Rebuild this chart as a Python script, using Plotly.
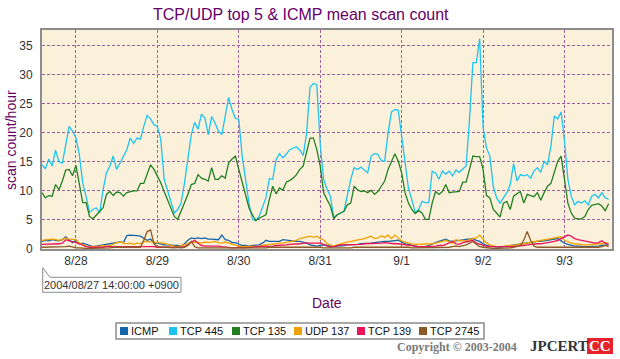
import plotly.graph_objects as go
import pandas as pd

# ---------------- data (hourly means) ----------------
START = "2004-08-27 14:00"
SERIES_NAMES = ["ICMP", "TCP 445", "TCP 135", "UDP 137", "TCP 139", "TCP 2745"]
SERIES_COLORS = ["#1464AA", "#1EC4F0", "#228022", "#F0A000", "#E8145A", "#8C5A28"]
DAY_TICKS = ["2004-08-28", "2004-08-29", "2004-08-30", "2004-08-31",
             "2004-09-01", "2004-09-02", "2004-09-03"]
DAY_LABELS = ["8/28", "8/29", "8/30", "8/31", "9/1", "9/2", "9/3"]
Y_TICKS = [0, 5, 10, 15, 20, 25, 30, 35]

tcp445 = [
    14.5, 13.8, 15.5, 14.3, 17.0, 15.0, 14.8, 18.0, 21.1, 20.3, 19.1, 16.3,
    11.4, 9.0, 6.3, 6.8, 7.1, 6.2, 10.2, 13.1, 14.3, 16.0, 13.7, 14.8,
    16.0, 17.1, 19.1, 18.2, 19.1, 18.9, 21.1, 23.0, 22.4, 21.4, 21.1, 18.9,
    12.0, 10.2, 8.2, 6.2, 6.8, 7.9, 11.4, 15.4, 19.7, 21.8, 20.6, 23.2,
    22.6, 19.7, 22.8, 21.7, 20.3, 19.7, 23.2, 26.1, 24.0, 22.5, 22.3, 16.0,
    12.0, 7.9, 5.1, 4.9, 5.6, 7.1, 8.8, 12.1, 12.0, 15.4, 16.4, 15.7,
    16.3, 17.1, 17.4, 17.6, 17.0, 16.1, 20.0, 27.9, 28.5, 28.3, 18.0, 12.0,
    10.3, 9.1, 5.5, 5.9, 6.2, 6.5, 9.5, 12.0, 14.0, 13.7, 14.1, 13.6,
    13.1, 16.0, 16.4, 16.3, 15.2, 15.1, 20.0, 23.6, 24.0, 23.9, 19.4, 14.8,
    10.5, 8.5, 6.3, 6.8, 8.2, 8.0, 8.0, 13.4, 13.1, 12.0, 13.4, 12.9,
    13.4, 12.6, 13.6, 13.2, 13.7, 14.3, 22.3, 32.1, 32.1, 36.2, 21.0, 17.4,
    16.0, 10.8, 8.8, 7.9, 8.8, 9.7, 11.1, 14.7, 11.7, 12.8, 12.6, 12.8,
    12.2, 13.4, 14.0, 13.2, 15.1, 14.5, 17.7, 22.9, 22.4, 23.6, 18.6, 12.0,
    9.1, 7.6, 8.2, 7.9, 8.3, 7.6, 9.1, 9.4, 8.8, 9.7, 8.8, 8.6,
]
tcp135 = [
    9.7, 8.8, 9.2, 9.1, 11.1, 10.2, 11.7, 13.6, 13.7, 12.6, 14.4, 11.4,
    8.0, 8.0, 5.6, 5.2, 5.9, 6.5, 7.1, 9.4, 9.9, 9.2, 9.8, 9.7,
    9.1, 9.7, 9.9, 10.0, 10.0, 11.3, 11.3, 13.1, 14.5, 13.7, 12.5, 11.4,
    9.9, 8.5, 7.1, 5.6, 5.1, 6.5, 7.9, 9.4, 11.1, 11.3, 12.8, 12.2,
    12.0, 11.7, 14.0, 12.0, 12.0, 12.6, 12.2, 14.8, 15.5, 16.0, 13.7, 11.4,
    9.1, 7.1, 5.9, 4.9, 5.3, 5.6, 5.9, 8.5, 10.8, 9.5, 10.5, 10.1,
    11.5, 11.8, 12.2, 12.8, 13.7, 14.3, 16.6, 19.1, 19.1, 17.1, 14.3, 9.7,
    8.5, 7.4, 5.2, 5.9, 6.2, 6.5, 7.6, 7.9, 10.8, 10.2, 9.9, 10.0,
    9.7, 10.1, 9.4, 9.9, 10.8, 11.7, 13.7, 15.1, 16.4, 15.1, 13.1, 9.7,
    7.9, 6.8, 6.1, 6.6, 6.2, 5.1, 5.1, 7.9, 9.9, 9.4, 9.9, 11.1,
    9.7, 9.8, 9.8, 9.9, 11.5, 11.5, 13.7, 16.0, 15.9, 15.9, 13.7, 9.2,
    8.8, 6.8, 6.2, 5.5, 7.9, 8.2, 6.8, 9.1, 9.5, 9.9, 7.9, 9.4,
    9.2, 9.0, 9.7, 8.4, 9.7, 10.8, 11.3, 13.4, 15.1, 16.0, 12.0, 7.9,
    6.2, 5.3, 5.2, 5.2, 5.6, 6.8, 7.5, 7.6, 7.8, 7.4, 6.6, 7.8,
]
icmp = [
    1.3, 1.5, 1.4, 1.6, 1.5, 1.4, 1.6, 2.1, 1.6, 1.1, 1.5, 0.9,
    1.0, 0.8, 0.5, 0.4, 0.5, 0.6, 0.6, 0.7, 0.9, 1.0, 1.1, 1.2,
    1.1, 2.3, 2.4, 2.4, 2.3, 2.2, 1.9, 1.5, 1.7, 1.0, 1.0, 0.8,
    0.7, 0.7, 0.6, 0.6, 0.6, 0.5, 0.9, 1.5, 1.9, 1.8, 1.9, 1.8,
    1.9, 1.7, 1.7, 1.6, 1.6, 2.4, 1.6, 1.5, 1.1, 1.1, 0.9, 0.6,
    0.6, 0.5, 0.6, 0.6, 0.7, 1.0, 1.5, 1.3, 1.3, 1.2, 1.3, 1.6,
    1.5, 1.5, 1.4, 1.3, 1.3, 1.2, 1.0, 0.7, 0.6, 0.5, 0.6, 0.7,
    0.6, 0.5, 0.4, 0.5, 0.5, 0.6, 0.7, 0.7, 0.8, 0.8, 0.9, 0.9,
    1.0, 1.0, 1.1, 1.2, 1.2, 1.3, 1.3, 1.4, 1.5, 1.5, 1.2, 0.9,
    0.8, 0.6, 0.5, 0.4, 0.4, 0.4, 0.6, 0.9, 1.1, 1.3, 1.5, 1.7,
    1.4, 1.3, 1.4, 1.5, 1.5, 1.6, 1.7, 1.8, 1.5, 1.3, 0.9, 0.6,
    0.5, 0.4, 0.3, 0.3, 0.4, 0.5, 0.6, 0.7, 0.8, 0.9, 1.0, 1.0,
    1.1, 1.2, 1.3, 1.3, 1.4, 1.5, 1.6, 1.6, 1.8, 1.4, 1.0, 0.8,
    0.6, 0.5, 0.5, 0.4, 0.4, 0.4, 0.4, 0.5, 0.5, 0.6, 0.7, 0.7,
]
udp137 = [
    1.5, 1.6, 1.6, 1.7, 1.6, 1.5, 1.6, 1.9, 1.7, 1.6, 1.6, 1.0,
    0.7, 0.5, 0.4, 0.4, 0.5, 0.5, 0.6, 0.5, 0.6, 0.9, 1.1, 1.2,
    1.1, 0.9, 1.0, 0.8, 1.0, 0.9, 1.3, 1.3, 1.2, 1.2, 1.1, 1.1,
    1.0, 0.8, 0.6, 0.5, 0.4, 0.6, 0.8, 1.0, 1.1, 1.2, 1.1, 1.0,
    1.2, 1.1, 1.2, 1.3, 1.1, 1.0, 1.2, 1.0, 0.8, 0.6, 0.5, 0.4,
    0.4, 0.5, 0.4, 0.5, 0.5, 0.6, 0.7, 0.8, 0.9, 0.9, 1.0, 1.0,
    1.1, 1.3, 1.4, 1.5, 1.8, 1.9, 2.1, 2.2, 2.0, 2.2, 1.8, 1.6,
    0.9, 0.7, 0.5, 0.7, 0.9, 1.0, 1.2, 1.3, 1.4, 1.5, 1.6, 1.8,
    2.0, 2.2, 1.8, 1.9, 2.3, 2.0, 2.4, 1.8, 2.4, 1.9, 1.4, 1.2,
    1.0, 0.9, 0.8, 0.8, 0.8, 0.9, 0.8, 0.9, 1.0, 1.1, 1.3, 1.5,
    1.2, 1.0, 1.6, 1.4, 1.5, 1.3, 1.7, 1.8, 1.9, 2.4, 1.6, 1.0,
    0.7, 0.5, 0.4, 0.4, 0.5, 0.5, 0.6, 0.6, 0.7, 0.8, 0.9, 1.0,
    1.1, 1.2, 1.3, 1.5, 1.6, 1.7, 1.8, 1.9, 1.9, 2.1, 1.5, 1.2,
    1.0, 0.9, 0.8, 0.7, 0.7, 0.7, 0.8, 0.8, 0.9, 0.9, 1.1, 1.0,
]
tcp139 = [
    0.8, 0.8, 0.9, 0.8, 0.9, 0.9, 1.0, 1.6, 1.4, 1.3, 1.1, 0.9,
    0.6, 0.4, 0.3, 0.3, 0.2, 0.3, 0.3, 0.4, 0.4, 0.5, 0.4, 0.5,
    0.4, 0.4, 0.5, 0.4, 0.5, 0.4, 0.4, 0.5, 0.4, 0.4, 0.3, 0.3,
    0.3, 0.2, 0.3, 0.3, 0.2, 0.3, 0.4, 0.7, 1.2, 1.5, 1.0, 0.6,
    0.5, 0.5, 0.6, 0.5, 0.5, 0.4, 0.3, 0.3, 0.2, 0.2, 0.3, 0.2,
    0.2, 0.3, 0.3, 0.4, 0.4, 0.5, 0.5, 0.5, 0.5, 0.6, 0.6, 0.7,
    0.7, 0.8, 0.8, 0.9, 0.9, 1.0, 1.0, 1.0, 1.0, 1.1, 1.0, 0.8,
    0.5, 0.3, 0.4, 0.6, 0.7, 0.7, 0.7, 0.7, 0.8, 0.8, 0.8, 0.9,
    0.9, 1.0, 1.0, 1.0, 1.0, 1.1, 1.0, 1.0, 0.9, 0.9, 0.8, 0.7,
    0.6, 0.5, 0.4, 0.4, 0.4, 0.4, 0.5, 0.5, 0.5, 0.6, 0.6, 0.8,
    1.0, 1.3, 0.9, 0.8, 1.1, 1.2, 1.4, 1.5, 1.0, 0.8, 0.7, 0.5,
    0.4, 0.4, 0.4, 0.3, 0.4, 0.4, 0.4, 0.4, 0.5, 0.5, 0.6, 0.7,
    0.8, 0.8, 0.9, 0.9, 1.0, 1.0, 1.1, 1.3, 1.5, 1.8, 2.2, 2.4,
    2.2, 1.8, 1.6, 1.5, 1.3, 1.2, 1.1, 1.0, 1.1, 1.4, 1.0, 0.8,
]
tcp2745 = [
    0.3, 0.3, 0.4, 0.3, 0.4, 0.3, 0.4, 0.4, 0.5, 0.3, 0.2, 0.2,
    0.1, 0.1, 0.1, 0.1, 0.1, 0.1, 0.2, 0.2, 0.2, 0.3, 0.3, 0.3,
    0.3, 0.3, 0.3, 0.4, 0.3, 0.3, 1.5, 3.0, 3.3, 0.9, 0.4, 0.3,
    0.3, 0.3, 0.2, 0.2, 0.3, 0.2, 0.3, 0.6, 1.3, 0.4, 0.2, 0.2,
    0.2, 0.2, 0.1, 0.2, 0.2, 0.2, 0.1, 0.1, 0.1, 0.1, 0.1, 0.1,
    0.1, 0.1, 0.2, 0.1, 0.2, 0.2, 0.2, 0.3, 0.3, 0.3, 0.3, 0.3,
    0.4, 0.3, 0.4, 0.4, 0.3, 0.3, 0.4, 0.3, 0.3, 0.3, 0.3, 0.2,
    0.2, 0.1, 0.1, 0.1, 0.2, 0.2, 0.2, 0.2, 0.3, 0.3, 0.3, 0.3,
    0.3, 0.3, 0.4, 0.3, 0.4, 0.3, 0.4, 0.4, 0.3, 0.4, 0.3, 0.3,
    0.3, 0.2, 0.2, 0.2, 0.2, 0.2, 0.2, 0.2, 0.3, 0.3, 0.3, 0.3,
    0.3, 0.4, 0.5, 0.4, 0.5, 0.7, 1.0, 1.3, 0.8, 0.4, 0.3, 0.2,
    0.2, 0.1, 0.1, 0.1, 0.1, 0.2, 0.2, 0.3, 0.4, 0.6, 1.5, 3.0,
    1.5, 0.5, 0.3, 0.3, 0.2, 0.3, 0.3, 0.3, 0.3, 0.3, 0.3, 0.3,
    0.3, 0.3, 0.3, 0.3, 0.3, 0.3, 0.3, 0.3, 0.3, 0.4, 0.6, 0.4,
]
SERIES_VALUES = [icmp, tcp445, tcp135, udp137, tcp139, tcp2745]
for v in SERIES_VALUES:
    assert len(v) == 168, len(v)

times = pd.date_range(START, periods=168, freq="h")

# ---------------- layout constants ----------------
W, H = 620, 359
L, R, T, B = 42, 612, 30, 249
FONT = "Liberation Sans, Arial, sans-serif"
SERIF = "Liberation Serif, Times New Roman, serif"
PURPLE = "#660066"

def px(x):
    return (x - L) / (R - L)

def py(y):
    return (B - y) / (B - T)

def text(s, x, y, size, color, family=FONT, xanchor="center", **kw):
    return dict(text=s, x=px(x), y=py(y), xref="paper", yref="paper",
                xanchor=xanchor, yanchor="middle", showarrow=False,
                font=dict(size=size, color=color, family=family), **kw)

fig = go.Figure()
draw_order = [1, 2, 0, 3, 4, 5]
for i in draw_order:
    fig.add_trace(go.Scatter(
        x=times, y=SERIES_VALUES[i], mode="lines", name=SERIES_NAMES[i],
        line=dict(color=SERIES_COLORS[i], width=1.3), showlegend=False,
        hoverinfo="skip"))

grid = dict(showgrid=True, gridcolor="#A0609A", gridwidth=1, griddash="3px,2px")

fig.update_layout(
    width=W, height=H,
    margin=dict(l=L, r=W - R, t=T, b=H - B, autoexpand=False),
    paper_bgcolor="white", plot_bgcolor="#FBF1DB",
    font=dict(family=FONT, size=12, color="#333333"),
    xaxis=dict(type="date", range=[times[0], pd.Timestamp("2004-09-03 14:00")],
               tickvals=DAY_TICKS, ticktext=DAY_LABELS, ticks="",
               showline=True, mirror=True, linecolor="#8C8C8C", linewidth=2,
               zeroline=False, tickfont=dict(size=12, color="#333333"),
               ticklabelstandoff=0, automargin=False, **grid),
    yaxis=dict(range=[0, 37.7], tickvals=Y_TICKS, ticks="",
               showline=True, mirror=True, linecolor="#8C8C8C", linewidth=2,
               zeroline=False, tickfont=dict(size=12, color="#333333"),
               ticklabelstandoff=5, automargin=False, **grid),
)

ann = []
shapes = []
ann.append(text("TCP/UDP top 5 &amp; ICMP mean scan count", 301, 14, 16, PURPLE))
ann.append(text("scan count/hour", 11, 140, 14, PURPLE, textangle=-90))
ann.append(text("Date", 327, 303, 14, PURPLE))

# start-time callout
bx0, bx1, by0, by1 = 42.7, 181, 277.3, 292.3
path = (f"M {px(50)},{py(by0)} L {px(bx0)},{py(267.7)} L {px(bx0)},{py(by1)} "
        f"L {px(bx1)},{py(by1)} L {px(bx1)},{py(by0)} Z")
shapes.append(dict(type="path", path=path, xref="paper", yref="paper",
                   line=dict(color="#8C8C8C", width=1), fillcolor="white"))
ann.append(text(times[0].strftime("%Y/%m/%d %H:%M:%S") + " +0900",
                (bx0 + bx1) / 2, (by0 + by1) / 2, 11, "#333333"))

# legend box (manual, square swatches)
shapes.append(dict(type="rect", xref="paper", yref="paper",
                   x0=px(116), x1=px(484), y0=py(339), y1=py(323),
                   line=dict(color="#8C8C8C", width=1.5), fillcolor="white"))
LEGEND_X = [120, 169, 232, 294, 357, 419]
for name, col, lx in zip(SERIES_NAMES, SERIES_COLORS, LEGEND_X):
    shapes.append(dict(type="rect", xref="paper", yref="paper",
                       x0=px(lx), x1=px(lx + 8), y0=py(335), y1=py(327),
                       line=dict(width=0), fillcolor=col))
    ann.append(text(name, lx + 9, 331, 11, "#111111", xanchor="left"))

# copyright
ann.append(text("<b>Copyright © 2003-2004</b>", 457, 347, 12, "#7A7A7A", SERIF))
ann.append(text("<b>JPCERT</b>", 559, 346, 15, "#333333", SERIF))
shapes.append(dict(type="rect", xref="paper", yref="paper",
                   x0=px(587), x1=px(613), y0=py(354), y1=py(338),
                   line=dict(width=0), fillcolor="#E6232A"))
ann.append(text("<b>CC</b>", 600, 346, 15, "white", SERIF))

fig.update_layout(annotations=ann, shapes=shapes)
fig.write_html("out.html", config={"displayModeBar": False},
               post_script="document.body.style.margin='0';"
                           "document.body.style.overflow='hidden';")
